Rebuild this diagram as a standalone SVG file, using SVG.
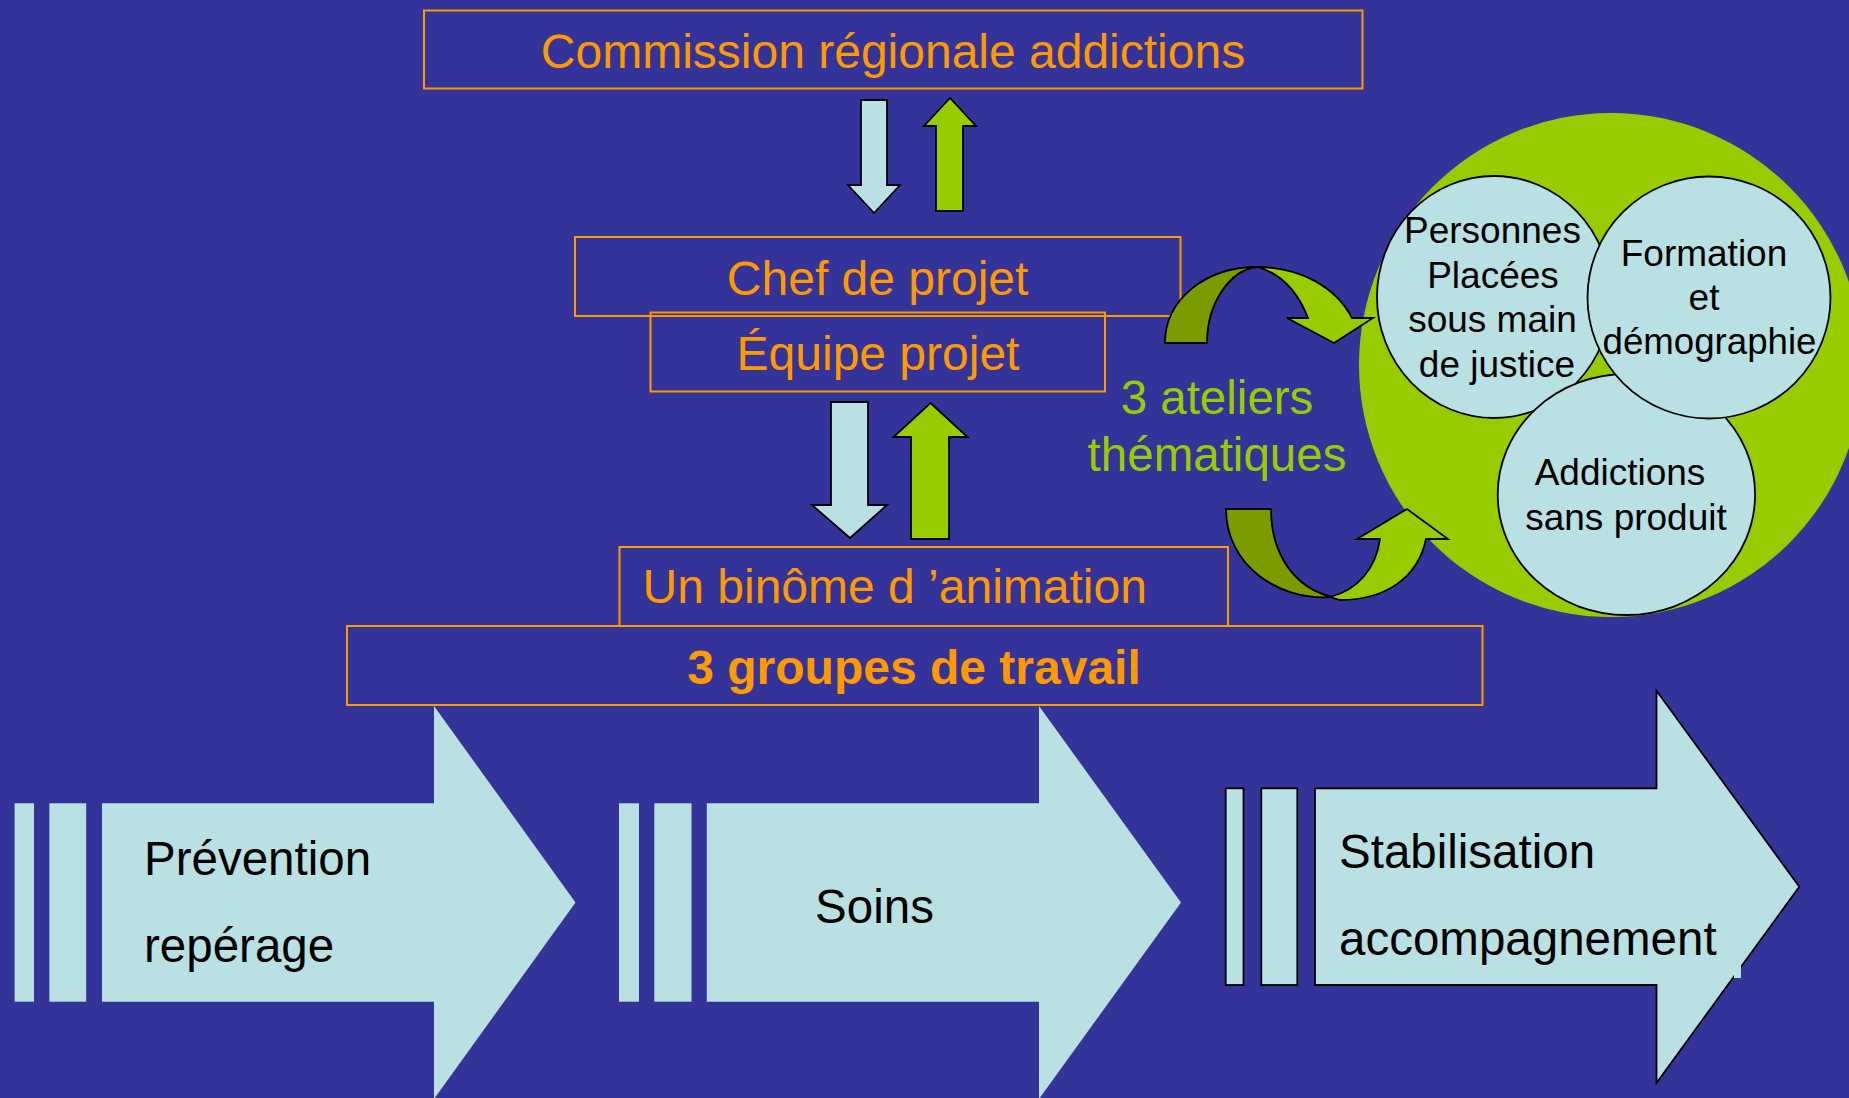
<svg xmlns="http://www.w3.org/2000/svg" width="1849" height="1098" viewBox="0 0 1849 1098">
<style>
.box{fill:none;stroke:#FF9900;stroke-width:2}
.ot{fill:#FF9900;font-family:"Liberation Sans",Arial,sans-serif;font-size:48px}
.bt{fill:#000;font-family:"Liberation Sans",Arial,sans-serif;font-size:47.5px}
.ct{fill:#000;font-family:"Liberation Sans",Arial,sans-serif;font-size:37px;text-anchor:middle}
.gt{fill:#99CC00;font-family:"Liberation Sans",Arial,sans-serif;font-size:47.5px;text-anchor:middle}
.lb{fill:#B9E0E3}
.la{fill:#B9E0E3;stroke:#000;stroke-width:1.8;stroke-linejoin:miter}
.ga{fill:#99CC00;stroke:#000;stroke-width:1.8}
.gd{fill:#7A9C00;stroke:#000;stroke-width:1.8}
.circ{fill:#B9E0E3;stroke:#000;stroke-width:1.8}
</style>
<rect x="0" y="0" width="1849" height="1098" fill="#333399"/>

<g id="commission">
<rect class="box" x="424" y="10.5" width="938.5" height="78"/>
<text class="ot" x="893" y="68" text-anchor="middle">Commission régionale addictions</text>
</g>

<g id="chef-projet">
<rect class="box" x="575" y="237" width="605.5" height="79"/>
<text class="ot" x="877.6" y="295" text-anchor="middle">Chef de projet</text>
</g>

<g id="equipe-projet">
<rect class="box" x="650.5" y="312.5" width="454.5" height="79"/>
<text class="ot" x="878" y="370" text-anchor="middle">Équipe projet</text>
</g>

<g id="binome">
<rect class="box" x="619.5" y="547" width="608.5" height="79"/>
<text class="ot" x="642.6" y="603">Un binôme d ’animation</text>
</g>

<g id="groupes">
<rect class="box" x="347" y="626" width="1135.5" height="79"/>
<text class="ot" x="914" y="684" text-anchor="middle" font-weight="bold">3 groupes de travail</text>
</g>

<g id="ateliers-label">
<text class="gt" x="1217" y="414">3 ateliers</text>
<text class="gt" x="1217" y="471">thématiques</text>
</g>

<g id="ateliers">
<circle cx="1611" cy="365" r="252" fill="#99CC00"/>
<ellipse class="circ" cx="1494" cy="297" rx="117" ry="121"/>
<ellipse class="circ" cx="1626.4" cy="494.5" rx="128.7" ry="120.5"/>
<ellipse class="circ" cx="1709" cy="297.5" rx="121.5" ry="121"/>
<text class="ct" x="1492.5" y="243.3">Personnes</text>
<text class="ct" x="1493" y="288.3">Placées</text>
<text class="ct" x="1492.5" y="332.3">sous main</text>
<text class="ct" x="1497" y="377.3">de justice</text>
<text class="ct" x="1704" y="265.7">Formation</text>
<text class="ct" x="1704" y="310">et</text>
<text class="ct" x="1709.5" y="354" textLength="214" lengthAdjust="spacingAndGlyphs">démographie</text>
<text class="ct" x="1620" y="485">Addictions</text>
<text class="ct" x="1626" y="530">sans produit</text>
</g>

<g id="connectors">
<polygon class="la" points="861,100 887,100 887,185 900,185 874,213 848,185 861,185"/>
<polygon class="ga" points="950,98 976,126 963,126 963,211 936,211 936,126 924,126"/>
<polygon class="la" points="831,402 868,402 868,505 887,505 850,538 812,505 831,505"/>
<polygon class="ga" points="930.5,403 967.5,437 949,437 949,539 911,539 911,437 893.5,437"/>
<path class="gd" d="M1165,343 C1165,300 1205,267 1257,267 C1230,270 1207,303 1207,343 Z"/>
<path class="ga" d="M1257,267 C1300,267 1336,287 1352,318 L1373,318 L1334,343 L1287,318 L1308,318 C1297,290 1280,273 1257,267 Z"/>
<path class="gd" d="M1226,509 L1271,509 C1271,555 1295,588 1332,597 C1278,601 1226,565 1226,509 Z"/>
<path class="ga" d="M1330,597 C1358,590 1376,568 1380,539 L1357,539 L1407,509 L1448,539 L1426,539 C1418,578 1385,600 1340,600 Z"/>
</g>

<g id="prevention">
<rect class="lb" x="14.6" y="803.3" width="19.4" height="198.4"/>
<rect class="lb" x="49.4" y="803.3" width="36.8" height="198.4"/>
<polygon class="lb" points="102,803.3 434,803.3 434,706 575.5,902.5 434,1099 434,1001.7 102,1001.7"/>
<text class="bt" x="144" y="875">Prévention</text>
<text class="bt" x="144" y="962">repérage</text>
</g>

<g id="soins">
<rect class="lb" x="619" y="803.3" width="20" height="198.4"/>
<rect class="lb" x="654.3" y="803.3" width="37.2" height="198.4"/>
<polygon class="lb" points="706.8,803.3 1039,803.3 1039,706 1181,902.5 1039,1099 1039,1001.7 706.8,1001.7"/>
<text class="bt" x="874.5" y="923" text-anchor="middle">Soins</text>
</g>

<g id="stabilisation">
<rect class="la" x="1225.7" y="788.3" width="17.8" height="196.7"/>
<rect class="la" x="1261.3" y="788.3" width="36" height="196.7"/>
<polygon class="la" points="1315,788.3 1656.5,788.3 1656.5,690.7 1799.3,886.7 1656.5,1083 1656.5,985 1315,985"/>
<rect class="lb" x="1734" y="965" width="7" height="13"/>
<text class="bt" x="1339" y="868">Stabilisation</text>
<text class="bt" x="1339" y="955">accompagnement</text>
</g>
</svg>
